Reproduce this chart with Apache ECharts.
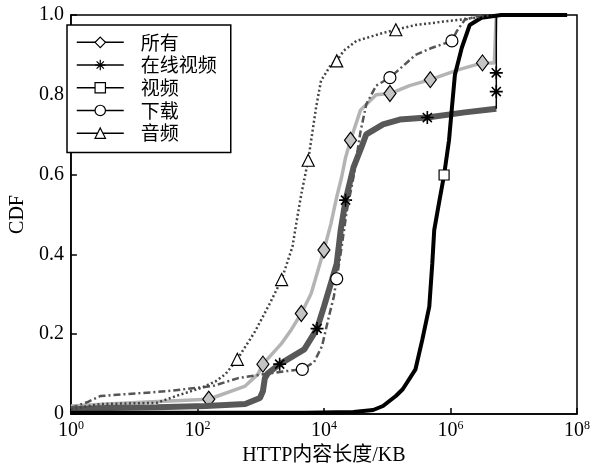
<!DOCTYPE html>
<html><head><meta charset="utf-8">
<script src="https://cdn.jsdelivr.net/npm/echarts@6/dist/echarts.min.js"></script>
<style>html,body{margin:0;padding:0;background:#fff}#c{width:593px;height:471px}</style>
</head><body><div id="c"></div>
<script>
// ---- data (HTTP content length in KB, CDF) ----
const seriesNames = ['所有', '在线视频', '视频', '下载', '音频'];

const allX = [1,3.77,15.8,151,569,906,1084,2143,3062,4385,6281,7780,10000,12850,15920,19050,21980,26300,37670,66830,110400,225900,479700,1355000,3206000,4930000,5300000,5300000];
const allY = [0.020,0.025,0.030,0.037,0.070,0.100,0.125,0.177,0.212,0.252,0.302,0.352,0.411,0.476,0.544,0.594,0.643,0.686,0.761,0.800,0.803,0.823,0.838,0.863,0.880,0.880,0.880,1.0];
const allMarks = [3,6,9,12,17,20,22,24];

const onlineX = [1,3.77,22.6,136,569,973,1084,1164,1297,1995,4887,7780,10000,12850,15920,18410,21980,29310,39000,46670,85900,157800,430500,1683000,5300000];
const onlineY = [0.012,0.015,0.017,0.020,0.025,0.040,0.057,0.090,0.102,0.125,0.162,0.214,0.269,0.327,0.377,0.461,0.536,0.618,0.668,0.701,0.726,0.738,0.743,0.756,0.765];
const onlineMarks = [9,11,16,22];
const onlineTailX = [5300000,5300000,5300000,5300000];
const onlineTailY = [0.765,0.808,0.855,1.0];
const onlineTailMarks = [1,2];

const videoX = [1,136,4887,29310,59980,85900,136800,175800,279900,359700,462400,515200,553400,662200,792500,948400,1054000,1175000,1510000,2014000,3090000,6330000,69800000];
const videoY = [0.003,0.003,0.003,0.005,0.010,0.020,0.045,0.062,0.112,0.187,0.269,0.376,0.461,0.531,0.599,0.686,0.768,0.850,0.918,0.975,0.993,1.0,1.0];
const videoMarks = [14];

const downloadX = [1,1.84,2.9,32,174,443,1164,2382,4550,6982,9311,11970,14320,15920,19050,22800,29310,37670,46670,66830,110400,279900,515200,1054000,1262000,1683000,3090000];
const downloadY = [0.015,0.030,0.045,0.057,0.070,0.090,0.100,0.107,0.112,0.130,0.170,0.244,0.294,0.339,0.419,0.506,0.594,0.706,0.776,0.823,0.843,0.900,0.918,0.935,0.960,0.988,1.0];
const downloadMarks = [8,13,20,23];

const audioX = [1,2.9,22.6,46,113,194,278,427,815,1393,2143,3177,3802,4385,5636,6281,7500,8980,12850,15920,20460,32660,85900,136800,279900,948400,2405000,4430000];
const audioY = [0.012,0.025,0.028,0.045,0.065,0.082,0.100,0.137,0.207,0.277,0.337,0.419,0.494,0.551,0.636,0.686,0.768,0.835,0.875,0.885,0.910,0.935,0.955,0.963,0.975,0.985,0.993,1.0];
const audioMarks = [7,10,14,19,23];

const yTicks = [0, 0.2, 0.4, 0.6, 0.8, 1.0];

// ---- build ----
const STAR = 'path://M0,-10L0,10M-10,0L10,0M-7,-7L7,7M-7,7L7,-7';
function build(xs, ys, marks, sym) {
  return xs.map((x, i) => ({ value: [x, ys[i]], symbol: marks.includes(i) ? sym : 'none' }));
}
const serif = 'Liberation Serif, Times New Roman, serif';
const cjk = 'Noto Sans CJK SC, sans-serif';

const chart = echarts.init(document.getElementById('c'), null, { renderer: 'canvas' });
chart.setOption({
  animation: false,
  backgroundColor: '#fff',
  grid: { left: 63, right: 15, top: 15, bottom: 53, show: true, borderColor: '#000', borderWidth: 1.5, backgroundColor: 'transparent' },
  legend: {
    data: seriesNames,
    orient: 'vertical',
    left: 67, top: 25,
    padding: [6, 14, 8, 9],
    itemGap: 0,
    itemWidth: 47, itemHeight: 13,
    borderColor: '#000', borderWidth: 1.5,
    backgroundColor: '#fff',
    textStyle: { fontFamily: cjk, fontSize: 19, color: '#000', lineHeight: 22.7, padding: [0, 0, 0, 12] },
    lineStyle: { color: '#000', width: 1.5, type: 'solid' },
    itemStyle: { color: '#fff', borderColor: '#000', borderWidth: 1.2 }
  },
  xAxis: {
    type: 'log', logBase: 10, min: 1, max: 1e8, interval: 2,
    name: 'HTTP内容长度/KB', nameLocation: 'middle', nameGap: 32,
    nameTextStyle: { fontFamily: serif + ',' + cjk, fontSize: 20, color: '#000' },
    axisLine: { lineStyle: { color: '#000', width: 1.5 } },
    axisTick: { inside: true, length: 6, lineStyle: { color: '#000', width: 1.5 } },
    splitLine: { show: false },
    axisLabel: {
      margin: 6, color: '#000',
      formatter: v => '{b|10}{s|' + Math.round(Math.log10(v)) + '}',
      rich: {
        b: { fontFamily: serif, fontSize: 20, color: '#000' },
        s: { fontFamily: serif, fontSize: 12, color: '#000', padding: [0, 0, 9, 0] }
      }
    }
  },
  yAxis: {
    type: 'value', min: 0, max: 1, interval: 0.2,
    name: 'CDF', nameLocation: 'middle', nameGap: 38,
    nameTextStyle: { fontFamily: serif, fontSize: 20, color: '#000' },
    axisLine: { lineStyle: { color: '#000', width: 1.5 } },
    axisTick: { inside: true, length: 6, lineStyle: { color: '#000', width: 1.5 } },
    splitLine: { show: false },
    axisLabel: { margin: 7, fontFamily: serif, fontSize: 20, color: '#000',
      formatter: v => v === 0 ? '0' : v.toFixed(1) }
  },
  series: [
    { name: '所有', type: 'line', z: 2, symbol: 'diamond', symbolSize: [12, 16], showAllSymbol: true,
      data: build(allX, allY, allMarks, 'diamond'),
      lineStyle: { color: '#b4b4b4', width: 3.5 },
      itemStyle: { color: '#c4c4c4', borderColor: '#000', borderWidth: 1.2 } },
    { name: '在线视频', type: 'line', z: 3, symbol: STAR, symbolSize: 13, showAllSymbol: true,
      data: build(onlineX, onlineY, onlineMarks, STAR),
      lineStyle: { color: '#585858', width: 6 },
      itemStyle: { color: 'transparent', borderColor: '#000', borderWidth: 1.6 } },
    { name: '在线视频', type: 'line', z: 3, symbol: STAR, symbolSize: 13, showAllSymbol: true,
      data: build(onlineTailX, onlineTailY, onlineTailMarks, STAR),
      lineStyle: { color: '#000', width: 1.5 },
      itemStyle: { color: 'transparent', borderColor: '#000', borderWidth: 1.6 } },
    { name: '视频', type: 'line', z: 4, symbol: 'rect', symbolSize: 10, showAllSymbol: true,
      data: build(videoX, videoY, videoMarks, 'rect'),
      lineStyle: { color: '#000', width: 4 },
      itemStyle: { color: '#fff', borderColor: '#000', borderWidth: 1.2 } },
    { name: '下载', type: 'line', z: 5, symbol: 'circle', symbolSize: 12, showAllSymbol: true,
      data: build(downloadX, downloadY, downloadMarks, 'circle'),
      lineStyle: { color: '#555', width: 2.5, type: [7, 3, 2, 3] },
      itemStyle: { color: '#fff', borderColor: '#000', borderWidth: 1.2 } },
    { name: '音频', type: 'line', z: 5, symbol: 'triangle', symbolSize: 12, showAllSymbol: true,
      data: build(audioX, audioY, audioMarks, 'triangle'),
      lineStyle: { color: '#444', width: 2.5, type: [2, 2.5] },
      itemStyle: { color: '#fff', borderColor: '#000', borderWidth: 1.2 } }
  ]
});
</script>
</body></html>
